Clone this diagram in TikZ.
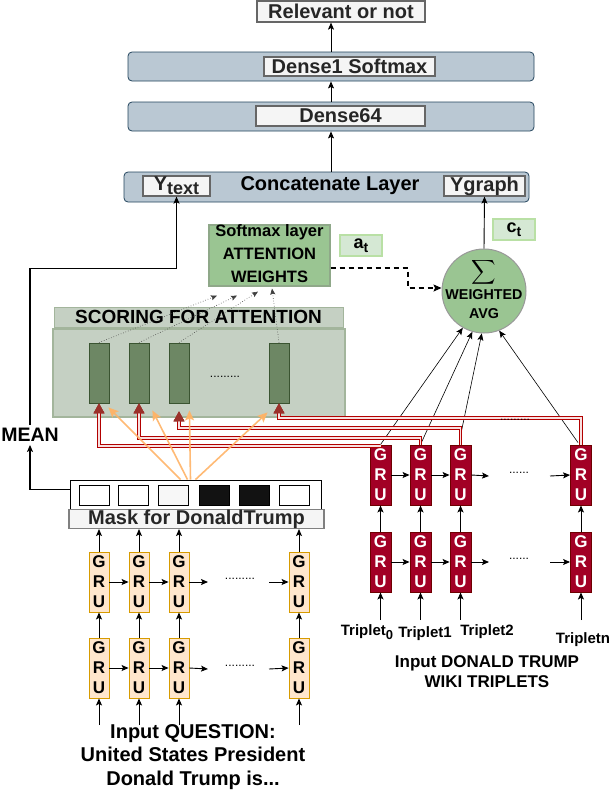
\documentclass[tikz,border=0pt]{standalone}
\usepackage{fontspec}
\setmainfont{Liberation Sans}
\usetikzlibrary{arrows.meta,calc}
\newcommand{\myfs}[1]{\fontsize{#1}{#1}\selectfont}
\definecolor{layerF}{HTML}{BAC8D3}
\definecolor{layerS}{HTML}{23445D}
\definecolor{wboxF}{HTML}{F5F5F5}
\definecolor{wboxS}{HTML}{666666}
\definecolor{softF}{HTML}{9AC592}
\definecolor{softS}{HTML}{8FA889}
\definecolor{lgF}{HTML}{D5E8D4}
\definecolor{lgS}{HTML}{B9E0A5}
\definecolor{scF}{HTML}{C5D0C3}
\definecolor{scS}{HTML}{A3B59C}
\definecolor{barF}{HTML}{6D8764}
\definecolor{barS}{HTML}{3A5431}
\definecolor{oF}{HTML}{FFE6CC}
\definecolor{oS}{HTML}{D79B00}
\definecolor{rF}{HTML}{A20025}
\definecolor{rS}{HTML}{6F0000}
\definecolor{redO}{HTML}{B20000}
\definecolor{redI}{HTML}{F8E0E0}
\definecolor{redH}{HTML}{9B302A}
\definecolor{orA}{HTML}{FFB366}
\tikzset{
  layer/.style={draw=layerS, fill=layerF, rounded corners=4pt, line width=0.8pt, minimum width=406pt, minimum height=29pt, inner sep=0pt},
  wbox/.style={draw=wboxS, fill=wboxF, line width=1.2pt, inner sep=0pt, font=\bfseries\myfs{20}, text=black!85},
  lgbox/.style={draw=lgS, fill=lgF, line width=1.2pt, inner sep=0pt, minimum width=42pt, minimum height=21pt, font=\bfseries\myfs{18}},
  bar/.style={draw=barS, fill=barF, line width=0.8pt, minimum width=20pt, minimum height=60pt, inner sep=0pt},
  gruL/.style={draw=oS, fill=oF, line width=0.9pt, minimum width=20pt, minimum height=60pt, inner sep=0pt, align=center, font=\bfseries\fontsize{17}{20}\selectfont},
  gruR/.style={draw=rS, fill=rF, line width=0.9pt, minimum width=21pt, minimum height=60pt, inner sep=0pt, align=center, text=white, font=\bfseries\fontsize{17}{20}\selectfont},
  sq/.style={draw=black, line width=0.8pt, minimum width=30pt, minimum height=20pt, inner sep=0pt},
  arr/.style={-{Stealth[length=7pt,width=6pt,inset=1.5pt]}, line width=0.9pt, draw=black},
  thinarr/.style={-{Stealth[length=7pt,width=6pt,inset=1.5pt]}, line width=0.6pt, draw=black},
  dotarr/.style={-{Stealth[length=6pt,width=5pt,inset=1pt]}, line width=0.6pt, dotted, draw=black!75},
  dasharr/.style={-{Stealth[length=8pt,width=7pt,inset=1.5pt]}, line width=1.1pt, dash pattern=on 5pt off 4pt, draw=black},
  orarr/.style={-{Stealth[length=10pt,width=9pt,inset=2pt]}, line width=1.6pt, draw=orA, opacity=0.9},
  redlink/.style={draw=redI, line width=1.1pt, preaction={draw=redO, line width=3.2pt},
     -{Triangle[length=10pt,width=11pt,line width=0.5pt,color=redH]}},
  dots/.style={font=\myfs{12}, inner sep=0pt},
  lbl/.style={font=\bfseries, inner sep=0pt, align=center}
}
\begin{document}
\begin{tikzpicture}[x=1pt,y=-1pt]
\useasboundingbox (0,0) rectangle (612,793);
\fill[white] (0,0) rectangle (612,793);

% top layers
\node[wbox, minimum width=168pt, minimum height=21pt] (rel) at (341,11.5) {Relevant or not};
\node[layer] (d1) at (331,66.5) {};
\node[wbox, minimum width=171pt, minimum height=19pt] (d1t) at (349.5,66.5) {Dense1 Softmax};
\node[layer] (d64) at (331,116.5) {};
\node[wbox, minimum width=169pt, minimum height=20pt] (d64t) at (340.5,116) {Dense64};
\node[layer, minimum width=405pt, minimum height=30pt, font=\bfseries\myfs{20}] (cat) at (326.5,187) {};
\node[lbl, font=\bfseries\myfs{20}] (catt) at (330,186) {Concatenate Layer};
\node[wbox, minimum width=67pt, minimum height=20pt] (yt) at (176.5,186) {Y\raisebox{-4pt}{\myfs{18}text}};
\node[wbox, minimum width=81pt, minimum height=20pt] (yg) at (484.5,186) {Ygraph};

\draw[arr] (d1.north) -- (d1.north |- rel.south);
\draw[arr] (d64.north) -- (d1.south);
\draw[arr] (cat.north -| d64.south) -- (d64.south);

% softmax + weighted avg
\node[draw=softS, fill=softF, line width=1.2pt, minimum width=121pt, minimum height=61pt, inner sep=0pt] (soft) at (269.5,255.5) {};
\node[lbl, font=\bfseries\fontsize{16.5}{23}\selectfont] (softt) at (269.5,254) {Softmax layer\\ATTENTION\\WEIGHTS};
\node[lgbox] (at) at (361,245.5) {a\raisebox{-3.5pt}{\myfs{14}t}};
\node[lgbox] (ct) at (514,229.5) {c\raisebox{-3.5pt}{\myfs{14}t}};
\node[circle, draw=black!40, fill=softF, line width=1pt, minimum size=84pt, inner sep=0pt] (circ) at (484,291) {};
\node[inner sep=0pt] (sig) at (484,272) {\scalebox{1.7}{$\displaystyle\sum$}};
\node[lbl, font=\bfseries\fontsize{14.3}{19}\selectfont] (wavg) at (484,304) {WEIGHTED\\AVG};
\draw[arr] (circ.north) -- (yg.south);
\coordinate (dk) at (408,288);
\draw[dasharr] ($(soft.east)+(0,12.5)$) -| (dk) -- (circ.west |- dk);

% scoring
\node[draw=scS, fill=scF, line width=1pt, minimum width=289pt, minimum height=20pt, inner sep=0pt] (sch) at (198.5,317) {};
\node[lbl, font=\bfseries\myfs{19}] (scht) at (198.5,317) {SCORING FOR ATTENTION};
\node[draw=scS, fill=scF, line width=2pt, minimum width=292pt, minimum height=88pt, inner sep=0pt] (scm) at (199,373) {};
\node[bar] (b1) at (99,373) {};
\node[bar] (b2) at (139,373) {};
\node[bar] (b3) at (179,373) {};
\node[bar] (b4) at (279,373) {};
\node[dots] (bd) at (225,377) {.........};

\draw[dotarr] (b1.north) -- ($(soft.south)+(-52.5,9)$);
\draw[dotarr] (b2.north) -- ($(soft.south)+(-32.5,9)$);
\draw[dotarr] (b3.north) -- ($(soft.south)+(-11.5,5)$);
\draw[dotarr] (b4.north) -- ($(soft.south)+(2.5,2)$);

% mask
\node[draw=black, fill=white, line width=0.9pt, minimum width=251pt, minimum height=29pt, inner sep=0pt] (mask) at (195.5,494.5) {};
\node[wbox, minimum width=255pt, minimum height=18pt, line width=1.5pt, draw=black!50] (maskt) at (196.5,519) {Mask for DonaldTrump};
\node[sq] (s1) at (94,495) {};
\node[sq] (s2) at (133,495) {};
\node[sq, fill=black!3] (s3) at (173.5,495) {};
\node[sq, fill=black!93] (s4) at (214,495) {};
\node[sq, fill=black!93] (s5) at (254,495) {};
\node[sq] (s6) at (294,495) {};

% MEAN
\node[lbl, font=\bfseries\myfs{19.5}, inner sep=3pt] (mean) at (30,435) {MEAN};
\draw[arr, line width=1.2pt] ($(mask.west)+(0,-5)$) -| (mean.south);
\draw[arr, line width=1.2pt] (mean.north) |- ($(yt.south)+(0,72)$) -- (yt.south);

% left GRUs
\foreach \i/\x in {1/99,2/139,3/179,4/299}{
  \node[gruL] (l\i u) at (\x,582) {G\\R\\U};
  \node[gruL] (l\i d) at (\x,668) {G\\R\\U};
  \coordinate (li\i) at (\x,725);
  \draw[arr] (l\i u.north) -- (l\i u.north |- maskt.south);
  \draw[arr] (l\i d.north) -- (l\i u.south);
  \draw[arr] (li\i) -- (l\i d.south);
}
\foreach \r in {u,d}{
  \draw[arr] (l1\r.east) -- (l2\r.west);
  \draw[arr] (l2\r.east) -- (l3\r.west);
}
\coordinate (lua) at (208,582);
\coordinate (lub) at (269,582);
\coordinate (lda) at (208,669);
\coordinate (ldb) at (269,669);
\draw[arr] (l3u.east) -- (lua);
\draw[arr] (lub) -- (l4u.west);
\draw[arr] (l3d.east) -- (lda);
\draw[arr] (ldb) -- (l4d.west);
\node[dots] (lud) at (240,579) {.........};
\node[dots] (ldd) at (240,666) {.........};
\node[lbl, font=\bfseries\fontsize{20}{23.5}\selectfont] (q) at (193,757) {Input QUESTION:\\United States President\\Donald Trump is...};

% right GRUs
\foreach \i/\x in {1/380.5,2/420.5,3/460.5,4/581}{
  \node[gruR] (r\i u) at (\x,475) {G\\R\\U};
  \node[gruR] (r\i d) at (\x,562) {G\\R\\U};
  \coordinate (ri\i) at (\x,620);
  \draw[arr] (r\i d.north) -- (r\i u.south);
  \draw[arr] (ri\i) -- (r\i d.south);
}
\foreach \r in {u,d}{
  \draw[arr] (r1\r.east) -- (r2\r.west);
  \draw[arr] (r2\r.east) -- (r3\r.west);
}
\coordinate (rua) at (489,476);
\coordinate (rub) at (550,476);
\coordinate (rda) at (489,562);
\coordinate (rdb) at (550,562);
\draw[arr] (r3u.east) -- (rua);
\draw[arr] (rub) -- (r4u.west);
\draw[arr] (r3d.east) -- (rda);
\draw[arr] (rdb) -- (r4d.west);
\node[dots] (rud) at (519,473) {......};
\node[dots] (rdd) at (519,559) {......};

\node[lbl, font=\bfseries\myfs{15}] (t0) at (367,632) {Triplet\raisebox{-4pt}{\myfs{13}0}};
\node[lbl, font=\bfseries\myfs{15}] (t1) at (425,634) {Triplet1};
\node[lbl, font=\bfseries\myfs{15}] (t2) at (487,632) {Triplet2};
\node[lbl, font=\bfseries\myfs{15}] (tn) at (583,640) {Tripletn};
\node[lbl, font=\bfseries\fontsize{17}{20}\selectfont] (wiki) at (487,672) {Input DONALD TRUMP\\WIKI TRIPLETS};

% arrows from right GRUs to weighted avg
\draw[thinarr] (r1u.north) -- (circ.240);
\draw[thinarr] (r2u.north) -- (circ.254);
\draw[thinarr] ($(r3u.north)+(-1,-4)$) -- (circ.267);
\draw[thinarr] ($(r4u.north)+(-3,-2)$) -- (circ.291);

% red links
\draw[redlink] (r1u.north) |- (b1.south |- 0,446) -- (b1.south);
\draw[redlink] (r2u.north) |- (b2.south |- 0,438) -- (b2.south);
\draw[redlink] (r3u.north) |- (b3.south |- 0,428) -- ($(b3.south)+(0,8)$);
\draw[redlink] (r4u.north) |- (b4.south |- 0,418) -- (b4.south);
\node[dots] (redd) at (515,420) {.........};

% orange arrows
\draw[orarr] ($(mask.north)+(-15,0)$) -- ($(b1.south east)+(-1,4)$);
\draw[orarr] ($(mask.north)+(-8,0)$) -- ($(b2.south east)+(3,7)$);
\draw[orarr] ($(mask.north)+(-5,0)$) -- ($(b3.south east)+(0,7)$);
\draw[orarr] ($(mask.north)+(0,0)$) -- ($(b4.south west)+(-1,9)$);
\end{tikzpicture}
\end{document}
